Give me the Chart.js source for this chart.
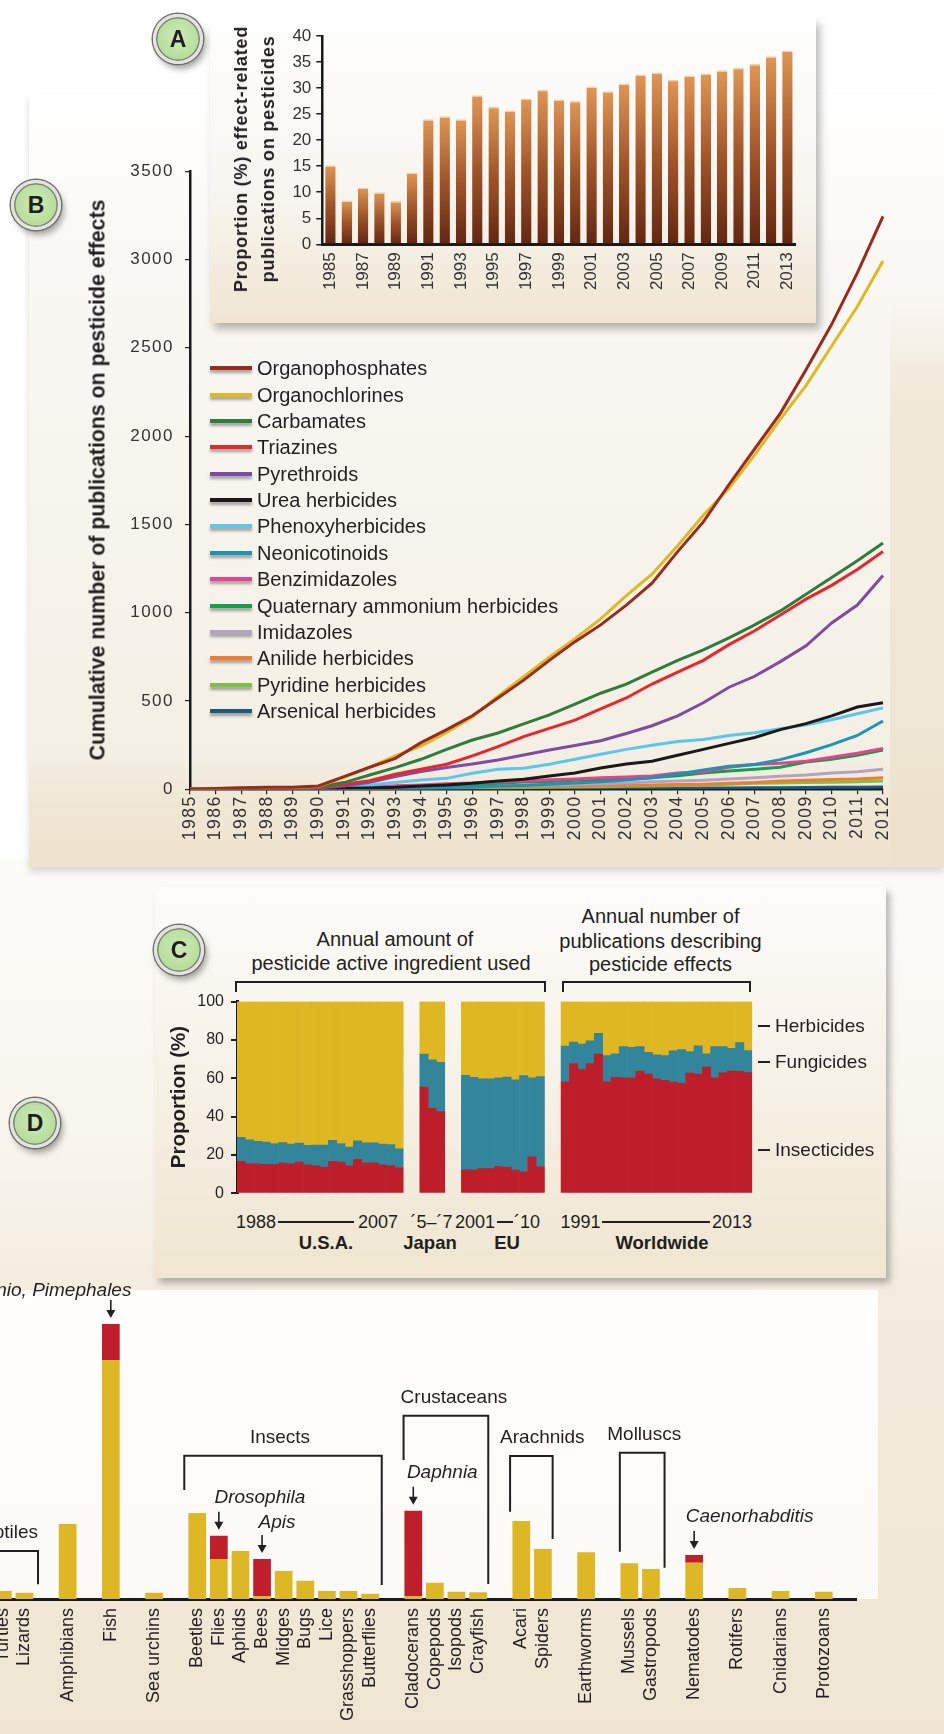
<!DOCTYPE html>
<html>
<head>
<meta charset="utf-8">
<script src="https://cdn.jsdelivr.net/npm/chart.js@4.4.0/dist/chart.umd.min.js"></script>
<style>
  html, body { margin: 0; padding: 0; }
  body { width: 944px; height: 1734px; position: relative; overflow: hidden; background: #fff;
         font-family: "Liberation Sans", Arial, Helvetica, sans-serif; color: #231f20; }
  .panel, canvas, .t, .tl, .rot, .line, .badge, .brk { position: absolute; }
  .t { white-space: nowrap; transform: translate(-50%, -50%); }
  .tl { white-space: nowrap; transform: translateY(-50%); }
  .rot { white-space: nowrap; transform: translate(-50%, -50%) rotate(-90deg); font-weight: bold; text-align: center; }
  .line { background: #231f20; }
  .brk { border: 2px solid #231f20; border-bottom: none; box-sizing: border-box; }
  .badge { width: 44px; height: 44px; margin: -25px 0 0 -25px; border-radius: 50%;
           border: 3px solid #e4e4de; z-index: 10;
           box-shadow: 0 0 0 1.5px #707070, inset 0 0 0 1.5px #808080, 3px 5px 6px rgba(0,0,0,0.35);
           background: radial-gradient(circle at 50% 45%, #cdeab8 0%, #b6dd9a 70%, #a4cf87 100%);
           font: bold 23px "Liberation Sans", Arial, sans-serif; color: #1f1f1f; text-align: center; line-height: 44px; }
  .legB { position: absolute; left: 210px; height: 24px; }
  .legB .sw { position: absolute; left: 0; top: 10px; width: 42px; height: 4px; box-shadow: 0 3px 3px rgba(0,0,0,0.35); }
  .legB span { position: absolute; left: 47px; top: 0; line-height: 24px; font-size: 20px; white-space: nowrap; }
</style>
</head>
<body>

<div class="panel" style="left:0;top:860px;width:944px;height:874px;background:linear-gradient(to bottom,#fcfbf8 0%,#f9f6ef 30%,#f3ecdf 50%,#efe5d2 100%);"></div>
<div class="panel" style="left:0;top:1290px;width:878px;height:309px;background:linear-gradient(to bottom,#fffefd,#fcfaf6);"></div>
<div class="panel" style="left:29px;top:95px;width:915px;height:772px;background:linear-gradient(to bottom,#ffffff 0%,#faf8f4 20%,#f7f4ed 55%,#f4efe4 86%,#efe6d3 92%,#eee3cf 100%);box-shadow:0 5px 7px rgba(0,0,0,0.14);"></div>
<div class="panel" style="left:890px;top:300px;width:54px;height:567px;background:linear-gradient(to bottom,rgba(236,225,202,0),rgba(236,225,202,0.7) 20%,rgba(236,225,202,0.7));"></div>
<div class="panel" style="left:155px;top:887px;width:731px;height:391px;background:linear-gradient(to bottom,#fdfcfa,#f5efe3 60%,#efe5d0);box-shadow:4px 5px 7px rgba(0,0,0,0.28);"></div>

<canvas id="chartB" width="800" height="710" style="left:110px;top:150px;"></canvas>

<div class="panel" style="left:209.5px;top:18px;width:606.5px;height:305px;background:linear-gradient(to bottom,#fefefe,#f8f5ef 60%,#efe5d1);box-shadow:4px 6px 8px rgba(0,0,0,0.28);"></div>
<canvas id="chartA" width="616" height="305" style="left:200px;top:18px;"></canvas>
<div class="rot" style="left:255px;top:159px;font-size:18px;letter-spacing:0.8px;line-height:27px;">Proportion (%) effect-related<br>publications on pesticides</div>

<div class="rot" style="left:97.5px;top:480px;font-size:21.3px;">Cumulative number of publications on pesticide effects</div>
<div id="legendB"></div>

<canvas id="chartC" width="600" height="225" style="left:160px;top:985px;"></canvas>
<div class="rot" style="left:178px;top:1097px;font-size:20.5px;">Proportion (%)</div>
<div class="t" style="left:395px;top:939px;font-size:20px;">Annual amount of</div>
<div class="t" style="left:391px;top:963px;font-size:20px;">pesticide active ingredient used</div>
<div class="t" style="left:660.5px;top:916px;font-size:20px;">Annual number of</div>
<div class="t" style="left:660.5px;top:940.7px;font-size:20px;">publications describing</div>
<div class="t" style="left:660.5px;top:964px;font-size:20px;">pesticide effects</div>
<div class="brk" style="left:235px;top:981px;width:311px;height:11px;"></div>
<div class="brk" style="left:561.5px;top:981px;width:189.7px;height:11px;"></div>
<div class="line" style="left:758px;top:1025px;width:12px;height:2px;"></div>
<div class="tl" style="left:775px;top:1025.7px;font-size:19px;">Herbicides</div>
<div class="line" style="left:758px;top:1061px;width:12px;height:2px;"></div>
<div class="tl" style="left:775px;top:1061.7px;font-size:19px;">Fungicides</div>
<div class="line" style="left:758px;top:1149px;width:12px;height:2px;"></div>
<div class="tl" style="left:775px;top:1150px;font-size:19px;">Insecticides</div>
<div class="tl" style="left:236px;top:1221.7px;font-size:18px;">1988</div>
<div class="line" style="left:278px;top:1221px;width:76px;height:2px;"></div>
<div class="tl" style="left:358px;top:1221.7px;font-size:18px;">2007</div>
<div class="t" style="left:431.5px;top:1221.7px;font-size:18px;">´5–´7</div>
<div class="tl" style="left:455px;top:1221.7px;font-size:18px;">2001</div>
<div class="line" style="left:497px;top:1221px;width:16px;height:2px;"></div>
<div class="tl" style="left:514px;top:1221.7px;font-size:18px;">´10</div>
<div class="tl" style="left:560.5px;top:1221.7px;font-size:18px;">1991</div>
<div class="line" style="left:601.5px;top:1221px;width:108.5px;height:2px;"></div>
<div class="tl" style="left:712px;top:1221.7px;font-size:18px;">2013</div>
<div class="t" style="left:326px;top:1243px;font-size:18.5px;font-weight:bold;">U.S.A.</div>
<div class="t" style="left:430px;top:1243px;font-size:18.5px;font-weight:bold;">Japan</div>
<div class="t" style="left:507px;top:1243px;font-size:18.5px;font-weight:bold;">EU</div>
<div class="t" style="left:662px;top:1243px;font-size:18.5px;font-weight:bold;">Worldwide</div>

<canvas id="chartD" width="884" height="474" style="left:-8px;top:1260px;"></canvas>

<div class="badge" style="left:178px;top:39px;">A</div>
<div class="badge" style="left:36px;top:205px;">B</div>
<div class="badge" style="left:179px;top:950px;">C</div>
<div class="badge" style="left:35px;top:1123px;">D</div>

<script>
// ---- A: share of effect-related publications (%)
const yearsA = ['1985','1986','1987','1988','1989','1990','1991','1992','1993','1994','1995','1996','1997','1998','1999',
  '2000','2001','2002','2003','2004','2005','2006','2007','2008','2009','2010','2011','2012','2013'];
const effectShare = [15.2, 8.4, 10.9, 10.0, 8.3, 13.8, 24.0, 24.6, 24.0, 28.6, 26.4, 25.7, 28.0, 29.7, 27.8,
  27.5, 30.3, 29.4, 30.9, 32.6, 33.0, 31.6, 32.4, 32.8, 33.4, 33.9, 34.6, 36.1, 37.2];

// ---- B: cumulative publications per pesticide class
const yearsB = ['1985','1986','1987','1988','1989','1990','1991','1992','1993','1994','1995','1996','1997','1998',
  '1999','2000','2001','2002','2003','2004','2005','2006','2007','2008','2009','2010','2011','2012'];
const organophosphates = [0,4,9,11,11,19,72,125,175,264,338,416,517,618,730,836,931,1043,1167,1346,1514,1726,1928,2129,2376,2633,2924,3244];
const organochlorines = [0,4,8,10,10,16,68,125,189,245,322,410,527,638,748,853,965,1097,1218,1379,1552,1704,1894,2096,2286,2510,2734,2991];
const carbamates = [0,2,5,6,7,15,38,81,123,170,226,279,319,370,421,482,544,596,663,730,790,858,931,1010,1104,1200,1294,1395];
const triazines = [0,1,3,4,5,12,28,49,85,113,142,189,242,298,345,392,455,517,596,663,730,819,898,987,1077,1155,1245,1346];
const pyrethroids = [0,1,2,3,4,8,19,40,72,100,123,143,166,194,223,248,275,316,360,416,490,578,640,723,812,942,1043,1211];
const ureaHerbicides = [0,1,1,2,3,4,6,8,11,19,25,34,47,57,75,92,121,143,159,193,226,260,293,338,372,416,466,490];
const phenoxyherbicides = [0,1,2,2,3,8,13,25,38,53,62,91,113,119,142,170,199,226,249,271,282,305,320,343,365,394,428,461];
const neonicotinoids = [0,0,0,0,0,0,1,2,4,6,10,13,18,22,28,35,43,53,66,85,110,130,140,168,207,253,305,387];
const benzimidazoles = [0,1,3,4,5,6,10,15,20,25,31,36,43,47,54,58,65,69,76,92,99,125,141,148,159,181,204,231];
const quaternaryAmmonium = [0,2,2,3,3,4,6,8,11,15,19,25,34,42,43,51,54,58,65,76,92,103,114,125,154,170,193,222];
const imidazoles = [0,0,1,1,2,3,4,6,8,11,14,17,20,23,26,29,31,36,43,47,51,58,65,74,81,92,99,114];
const anilideHerbicides = [0,0,0,1,1,3,4,5,6,8,10,12,14,16,18,20,21,23,25,27,29,34,38,47,51,56,58,65];
const pyridineHerbicides = [0,0,0,0,0,1,2,3,4,5,6,7,8,10,11,13,15,17,19,22,25,29,34,36,38,40,43,47];
const arsenicalHerbicides = [0,0,0,0,0,1,1,1,2,2,3,3,3,4,4,5,5,5,6,6,8,8,9,9,10,11,12,13];

const classNames = ['Organophosphates','Organochlorines','Carbamates','Triazines','Pyrethroids','Urea herbicides',
  'Phenoxyherbicides','Neonicotinoids','Benzimidazoles','Quaternary ammonium herbicides','Imidazoles',
  'Anilide herbicides','Pyridine herbicides','Arsenical herbicides'];
const classColors = ['#9a2a1e','#e0b820','#2f7d3d','#e8262b','#7b4ea3','#1a1a1a','#5cc6ec','#1b94b6',
  '#e8418f','#0fa14b','#b5a1c2','#f07b32','#7cc243','#1a5a80'];
const classSeries = [organophosphates, organochlorines, carbamates, triazines, pyrethroids, ureaHerbicides,
  phenoxyherbicides, neonicotinoids, benzimidazoles, quaternaryAmmonium, imidazoles, anilideHerbicides,
  pyridineHerbicides, arsenicalHerbicides];

// ---- C: proportions (%) insecticides / fungicides / herbicides
const usaYears = ['1988','1989','1990','1991','1992','1993','1994','1995','1996','1997','1998','1999','2000','2001','2002','2003','2004','2005','2006','2007'];
const usaInsect = [16.7,15.6,15.4,15.1,15.1,15.8,15.6,16.3,14.9,14.4,13.6,16.7,16.3,14.4,17.7,15.9,15.9,14.9,14.4,13.3];
const usaFungi = [12.5,12.3,11.8,11.6,10.9,10.7,10.1,9.9,10.1,10.8,11.6,11.0,9.7,9.8,9.7,10.5,10.5,10.8,11.0,9.9];
const usaHerb = [70.8,72.1,72.8,73.3,74.0,73.5,74.3,73.8,75.0,74.8,74.8,72.3,74.0,75.8,72.6,73.6,73.6,74.3,74.6,76.8];
const japanYears = ['2005','2006','2007'];
const japanInsect = [55.4,44.3,42.6];
const japanFungi = [17.2,25.4,25.7];
const japanHerb = [27.4,30.3,31.7];
const euYears = ['2001','2002','2003','2004','2005','2006','2007','2008','2009','2010'];
const euInsect = [12.3,12.3,12.9,12.9,14.1,13.6,12.1,11.4,19.1,13.9];
const euFungi = [49.2,48.2,46.8,46.8,46.1,47.1,47.1,50.0,41.1,47.0];
const euHerb = [38.5,39.5,40.3,40.3,39.8,39.3,40.8,38.6,39.8,39.1];
const worldYears = ['1991','1992','1993','1994','1995','1996','1997','1998','1999','2000','2001','2002','2003','2004','2005','2006','2007','2008','2009','2010','2011','2012','2013'];
const worldInsect = [58.0,67.7,64.5,67.7,72.6,58.2,60.5,60.2,60.2,63.8,62.2,59.7,58.9,58.0,57.4,62.7,62.2,65.8,60.2,62.9,63.8,63.7,63.0];
const worldFungi = [18.8,11.2,13.4,11.9,10.8,13.6,12.3,16.3,15.9,12.7,11.3,12.6,12.9,16.3,17.6,11.3,14.7,7.0,16.3,13.7,11.8,14.9,11.5];
const worldHerb = [23.2,21.1,22.1,20.4,16.6,28.2,27.2,23.5,23.9,23.5,26.5,27.7,28.2,25.7,25.0,26.0,23.1,27.2,23.5,23.4,24.4,21.4,25.5];

// ---- D: studies per taxon (relative units), other vs model species
const taxonGroups = [['Turtles','Lizards'],['Amphibians'],['Fish'],['Sea urchins'],
  ['Beetles','Flies','Aphids','Bees','Midges','Bugs','Lice','Grasshoppers','Butterflies'],
  ['Cladocerans','Copepods','Isopods','Crayfish'],['Acari','Spiders'],['Earthworms'],['Mussels','Gastropods'],
  ['Nematodes'],['Rotifers'],['Cnidarians'],['Protozoans']];
const otherSpecies = [8,6.3,75,239,6.3,86,40,48,3,28,18.3,8,8,5.3,3,16.3,7.3,6.7,78,50,46.7,35.7,30,36.3,11,8,7.3];
const modelSpecies = [0,0,0,36,0,0,23.3,0,37,0,0,0,0,0,85.3,0,0,0,0,0,0,0,0,7.7,0,0,0];

Chart.defaults.font.family = '"Liberation Sans", Arial, Helvetica, sans-serif';
Chart.defaults.color = '#231f20';

// ---------- Panel A
new Chart(document.getElementById('chartA'), {
  type: 'bar',
  data: {
    labels: yearsA,
    datasets: [{
      data: effectShare,
      backgroundColor: function(c) {
        const chart = c.chart;
        if (c.type !== 'data' || !chart.chartArea) return '#b06a35';
        const top = chart.scales.y.getPixelForValue(c.parsed.y);
        const g = chart.ctx.createLinearGradient(0, top, 0, chart.chartArea.bottom);
        g.addColorStop(0, '#e09655');
        g.addColorStop(0.5, '#a0552a');
        g.addColorStop(1, '#632611');
        return g;
      },
      borderColor: '#f5cfa3',
      borderWidth: { top: 1.5, left: 0, right: 0, bottom: 0 },
      barPercentage: 0.64,
      categoryPercentage: 1
    }]
  },
  options: {
    responsive: false,
    animation: false,
    layout: { padding: { top: 18, right: 9.4, left: 0, bottom: 0 } },
    plugins: { legend: { display: false }, tooltip: { enabled: false } },
    scales: {
      x: {
        grid: { display: false, drawTicks: false },
        border: { color: '#1a1a1a', width: 3 },
        ticks: {
          autoSkip: false, minRotation: 90, maxRotation: 90, padding: 8,
          font: { size: 17 }, color: '#333',
          callback: function(v, i) { return i % 2 === 0 ? yearsA[i] : ''; }
        },
        afterFit: function(s) { s.height = 78.7; }
      },
      y: {
        min: 0, max: 40,
        ticks: { stepSize: 5, padding: 5, font: { size: 17 }, color: '#333' },
        grid: { drawOnChartArea: false, tickLength: 6, color: '#1a1a1a', lineWidth: 1.5 },
        border: { color: '#1a1a1a', width: 2.5 },
        afterFit: function(s) { s.width = 122.3; }
      }
    }
  }
});

// ---------- Panel B
const trackedText = {
  id: 'trackedText',
  beforeDraw(chart) { chart.ctx.letterSpacing = '1.5px'; },
  afterDraw(chart) { chart.ctx.letterSpacing = '0px'; }
};

new Chart(document.getElementById('chartB'), {
  type: 'line',
  data: {
    labels: yearsB,
    datasets: classNames.map(function(name, i) {
      return {
        label: name, data: classSeries[i],
        borderColor: classColors[i], backgroundColor: classColors[i],
        borderWidth: 3, pointRadius: 0, tension: 0, fill: false
      };
    })
  },
  options: {
    responsive: false,
    animation: false,
    layout: { padding: { top: 21, right: 27, left: 0, bottom: 0 } },
    plugins: { legend: { display: false }, tooltip: { enabled: false } },
    scales: {
      x: {
        grid: { drawOnChartArea: false, tickLength: 5, color: '#231f20', lineWidth: 1.2 },
        border: { color: '#1a1a1a', width: 2.5 },
        ticks: { autoSkip: false, minRotation: 90, maxRotation: 90, padding: 1, font: { size: 17.5 }, color: '#333' },
        afterFit: function(s) { s.height = 70.7; }
      },
      y: {
        min: 0, max: 3500,
        ticks: { stepSize: 500, padding: 11, font: { size: 17 }, color: '#333',
                 callback: function(v) { return String(v); } },
        grid: { drawOnChartArea: false, tickLength: 5, color: '#231f20', lineWidth: 1.2 },
        border: { color: '#1a1a1a', width: 2.5 },
        afterFit: function(s) { s.width = 80; }
      }
    }
  },
  plugins: [trackedText]
});

// legend for B
const legendB = document.getElementById('legendB');
classNames.forEach(function(name, i) {
  const item = document.createElement('div');
  item.className = 'legB';
  item.style.top = (368.3 + 26.36 * i - 12) + 'px';
  const sw = document.createElement('div');
  sw.className = 'sw';
  sw.style.background = classColors[i];
  const tx = document.createElement('span');
  tx.textContent = name;
  item.appendChild(sw);
  item.appendChild(tx);
  legendB.appendChild(item);
});

// ---------- Panel C
const blocksC = [
  { years: usaYears, ins: usaInsect, fun: usaFungi, her: usaHerb },
  { years: japanYears, ins: japanInsect, fun: japanFungi, her: japanHerb },
  { years: euYears, ins: euInsect, fun: euFungi, her: euHerb },
  { years: worldYears, ins: worldInsect, fun: worldFungi, her: worldHerb }
];
const labelsC = [], insC = [], funC = [], herC = [];
blocksC.forEach(function(b, k) {
  if (k > 0) {
    for (let g = 0; g < 2; g++) { labelsC.push(''); insC.push(null); funC.push(null); herC.push(null); }
  }
  labelsC.push(...b.years); insC.push(...b.ins); funC.push(...b.fun); herC.push(...b.her);
});

new Chart(document.getElementById('chartC'), {
  type: 'bar',
  data: {
    labels: labelsC,
    datasets: [
      { label: 'Insecticides', data: insC, backgroundColor: '#be1e2a' },
      { label: 'Fungicides', data: funC, backgroundColor: '#33859c' },
      { label: 'Herbicides', data: herC, backgroundColor: '#deb723' }
    ]
  },
  options: {
    responsive: false,
    animation: false,
    layout: { padding: { top: 15.7, right: 7.8, left: 0, bottom: 8.3 } },
    datasets: { bar: { barPercentage: 1, categoryPercentage: 1, borderWidth: 0 } },
    plugins: { legend: { display: false }, tooltip: { enabled: false } },
    scales: {
      x: { stacked: true, display: false },
      y: {
        stacked: true, min: 0, max: 100,
        ticks: { stepSize: 20, padding: 7, font: { size: 16 }, color: '#231f20' },
        grid: { drawOnChartArea: false, tickLength: 6, color: '#231f20', lineWidth: 2 },
        border: { color: '#1a1a1a', width: 3 },
        afterFit: function(s) { s.width = 77; }
      }
    }
  }
});

// ---------- Panel D
const labelsD = [], otherD = [], modelD = [];
let taxonIdx = 0;
taxonGroups.forEach(function(group, k) {
  if (k > 0) { labelsD.push(''); otherD.push(null); modelD.push(null); }
  group.forEach(function(name) {
    labelsD.push(name);
    otherD.push(otherSpecies[taxonIdx]);
    modelD.push(modelSpecies[taxonIdx]);
    taxonIdx++;
  });
});
labelsD.push(''); otherD.push(null); modelD.push(null);

// brackets (x in slots around the first/last taxon, heights in chart units)
const groupBrackets = [
  { label: 'Reptiles', first: 'Turtles', last: 'Lizards', padL: -2, padR: 0.63, level: 48, dropL: 14.7, dropR: 14.7, align: 'right', dx: 0 },
  { label: 'Insects', first: 'Beetles', last: 'Butterflies', padL: -0.6, padR: 0.54, level: 143.3, dropL: 109, dropR: 14, dx: -3 },
  { label: 'Crustaceans', first: 'Cladocerans', last: 'Crayfish', padL: -0.45, padR: 0.47, level: 183.3, dropL: 139, dropR: 15, dx: 8 },
  { label: 'Arachnids', first: 'Acari', last: 'Spiders', padL: -0.52, padR: 0.45, level: 143, dropL: 87.3, dropR: 60, dx: 11 },
  { label: 'Molluscs', first: 'Mussels', last: 'Gastropods', padL: -0.44, padR: 0.63, level: 146.3, dropL: 47.3, dropR: 31.3, dx: 2 }
];
const modelTaxa = [
  { taxon: 'Fish', name: 'Danio, Pimephales', dx: 20.6, dy: -27, align: 'right' },
  { taxon: 'Flies', name: 'Drosophila', dx: 41, dy: -32, align: 'center' },
  { taxon: 'Bees', name: 'Apis', dx: 15, dy: -30, align: 'center' },
  { taxon: 'Cladocerans', name: 'Daphnia', dx: 29, dy: -32, align: 'center' },
  { taxon: 'Nematodes', name: 'Caenorhabditis', dx: 55.5, dy: -32, align: 'center' }
];

const annotateD = {
  id: 'annotateD',
  afterDraw(chart) {
    const ctx = chart.ctx, x = chart.scales.x, y = chart.scales.y;
    const slot = x.width / chart.data.labels.length;
    const px = function(name) { return x.getPixelForValue(labelsD.indexOf(name)); };
    ctx.save();
    ctx.strokeStyle = '#231f20';
    ctx.fillStyle = '#231f20';
    ctx.lineWidth = 2;
    ctx.textBaseline = 'middle';
    ctx.font = '19px "Liberation Sans", Arial, sans-serif';
    groupBrackets.forEach(function(b) {
      const x0 = px(b.first) + b.padL * slot;
      const x1 = px(b.last) + b.padR * slot;
      const yl = y.getPixelForValue(b.level);
      ctx.beginPath();
      ctx.moveTo(x0, y.getPixelForValue(b.dropL));
      ctx.lineTo(x0, yl);
      ctx.lineTo(x1, yl);
      ctx.lineTo(x1, y.getPixelForValue(b.dropR));
      ctx.stroke();
      ctx.textAlign = b.align || 'center';
      const tx = b.align === 'right' ? x1 : (x0 + x1) / 2 + b.dx;
      ctx.fillText(b.label, tx, yl - 18);
    });
    ctx.font = 'italic 19px "Liberation Sans", Arial, sans-serif';
    ctx.lineWidth = 1.6;
    modelTaxa.forEach(function(m) {
      const i = labelsD.indexOf(m.taxon);
      const xc = x.getPixelForValue(i);
      const total = chart.data.datasets.reduce(function(s, d) { return s + (d.data[i] || 0); }, 0);
      const tip = y.getPixelForValue(total) - 6;
      const tail = tip - 18;
      ctx.beginPath();
      ctx.moveTo(xc, tail);
      ctx.lineTo(xc, tip - 6);
      ctx.stroke();
      ctx.beginPath();
      ctx.moveTo(xc - 4.5, tip - 8);
      ctx.lineTo(xc + 4.5, tip - 8);
      ctx.lineTo(xc, tip);
      ctx.closePath();
      ctx.fill();
      ctx.textAlign = m.align;
      ctx.fillText(m.name, xc + m.dx, tip + m.dy);
    });
    ctx.restore();
  }
};

new Chart(document.getElementById('chartD'), {
  type: 'bar',
  data: {
    labels: labelsD,
    datasets: [
      { label: 'Other species', data: otherD, backgroundColor: '#deb726', stack: 's' },
      { label: 'Model species', data: modelD, backgroundColor: '#bf1e2b', stack: 's' }
    ]
  },
  options: {
    responsive: false,
    animation: false,
    layout: { padding: { top: 30, right: 1.2, left: 0, bottom: 0 } },
    datasets: { bar: { barPercentage: 0.82, categoryPercentage: 1 } },
    plugins: { legend: { display: false }, tooltip: { enabled: false } },
    scales: {
      x: {
        stacked: true,
        grid: { display: false, drawTicks: false },
        border: { color: '#1a1a1a', width: 3 },
        ticks: { autoSkip: false, minRotation: 90, maxRotation: 90, padding: 9, font: { size: 18 }, color: '#231f20' },
        afterFit: function(s) { s.height = 135; }
      },
      y: { stacked: true, display: false, min: 0, max: 309 }
    }
  },
  plugins: [annotateD]
});
</script>
</body>
</html>
